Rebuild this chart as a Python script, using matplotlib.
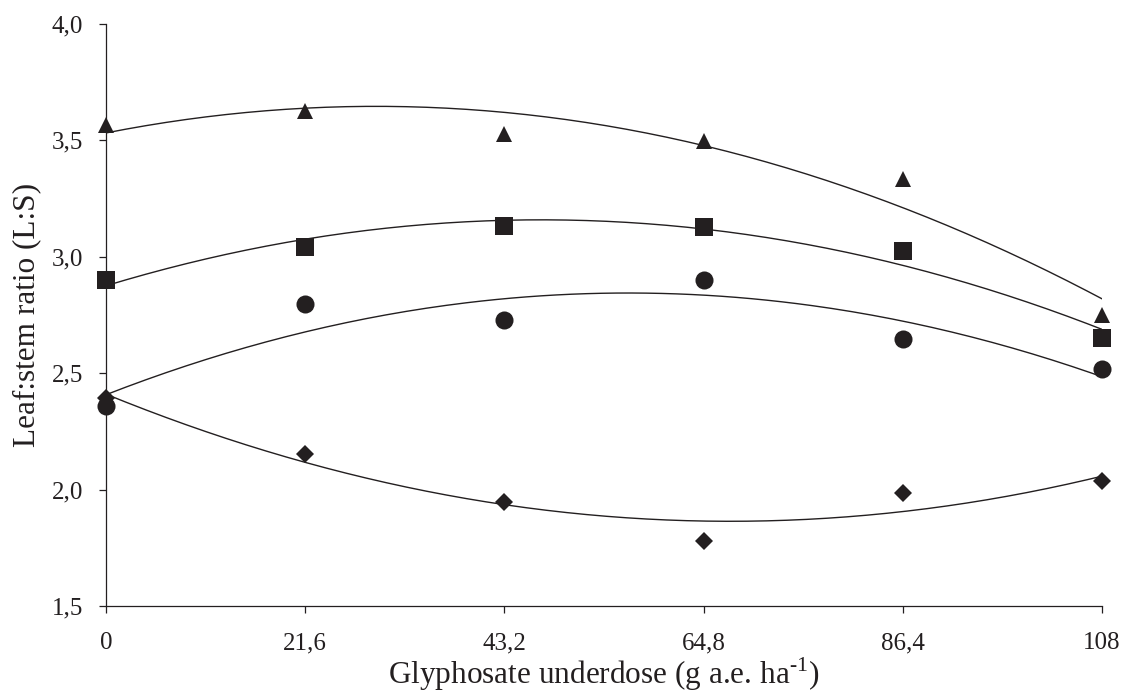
import matplotlib
matplotlib.use("Agg")
import matplotlib.pyplot as plt
import numpy as np
from matplotlib.ticker import FuncFormatter

plt.rcParams['font.family'] = ['Liberation Serif', 'DejaVu Serif']
plt.rcParams['mathtext.fontset'] = 'custom'
plt.rcParams['mathtext.rm'] = 'Liberation Serif'

# glyphosate underdose (g a.e. ha-1)
doses = [0, 21.6, 43.2, 64.8, 86.4, 108]
dose_labels = ['0', '21,6', '43,2', '64,8', '86,4', '108']

# leaf:stem ratio
triangles = [3.566, 3.625, 3.527, 3.498, 3.334, 2.749]
squares = [2.902, 3.043, 3.132, 3.126, 3.023, 2.653]
circles = [2.358, 2.796, 2.727, 2.899, 2.649, 2.520]
diamonds = [2.395, 2.151, 1.946, 1.779, 1.985, 2.035]

ink = '#231f20'

fig = plt.figure(figsize=(11.23, 6.95), dpi=100)
ax = fig.add_axes([0.0944, 0.128, 0.8869, 0.8375])

series = [
    (triangles, '^', 12),
    (squares, 's', 13),
    (circles, 'o', 13),
    (diamonds, 'D', 9.5),
]

xfit = np.linspace(0, 108, 200)
for vals, mk, ms in series:
    # quadratic trend line fitted to the points
    coef = np.polyfit(doses, vals, 2)
    ax.plot(xfit, np.polyval(coef, xfit), color=ink, lw=1.0, zorder=2)
    ax.plot(doses, vals, linestyle='none', marker=mk, markersize=ms,
            color=ink, markeredgewidth=0, zorder=3, clip_on=False)

ax.set_xlim(0, 108)
ax.set_ylim(1.5, 4.0)
ax.set_xticks(doses)
ax.set_xticklabels(dose_labels)
ax.set_yticks([1.5, 2.0, 2.5, 3.0, 3.5, 4.0])
ax.yaxis.set_major_formatter(FuncFormatter(lambda v, p: f'{v:.1f}'.replace('.', ',')))

for s in ['top', 'right']:
    ax.spines[s].set_visible(False)
for s in ['left', 'bottom']:
    ax.spines[s].set_linewidth(0.9)
    ax.spines[s].set_color(ink)

ax.tick_params(direction='out', length=5.3, width=0.9, color=ink,
               labelsize=18, labelcolor=ink)
ax.tick_params(axis='y', pad=11)
ax.tick_params(axis='x', pad=13.5)

ax.set_xlabel(r'Glyphosate underdose (g a.e. ha$^{\text{-1}}$)',
              fontsize=22.5, color=ink, labelpad=1)
ax.set_ylabel('Leaf:stem ratio (L:S)', fontsize=22.5, color=ink, labelpad=8)

fig.savefig('out.png', dpi=100)
